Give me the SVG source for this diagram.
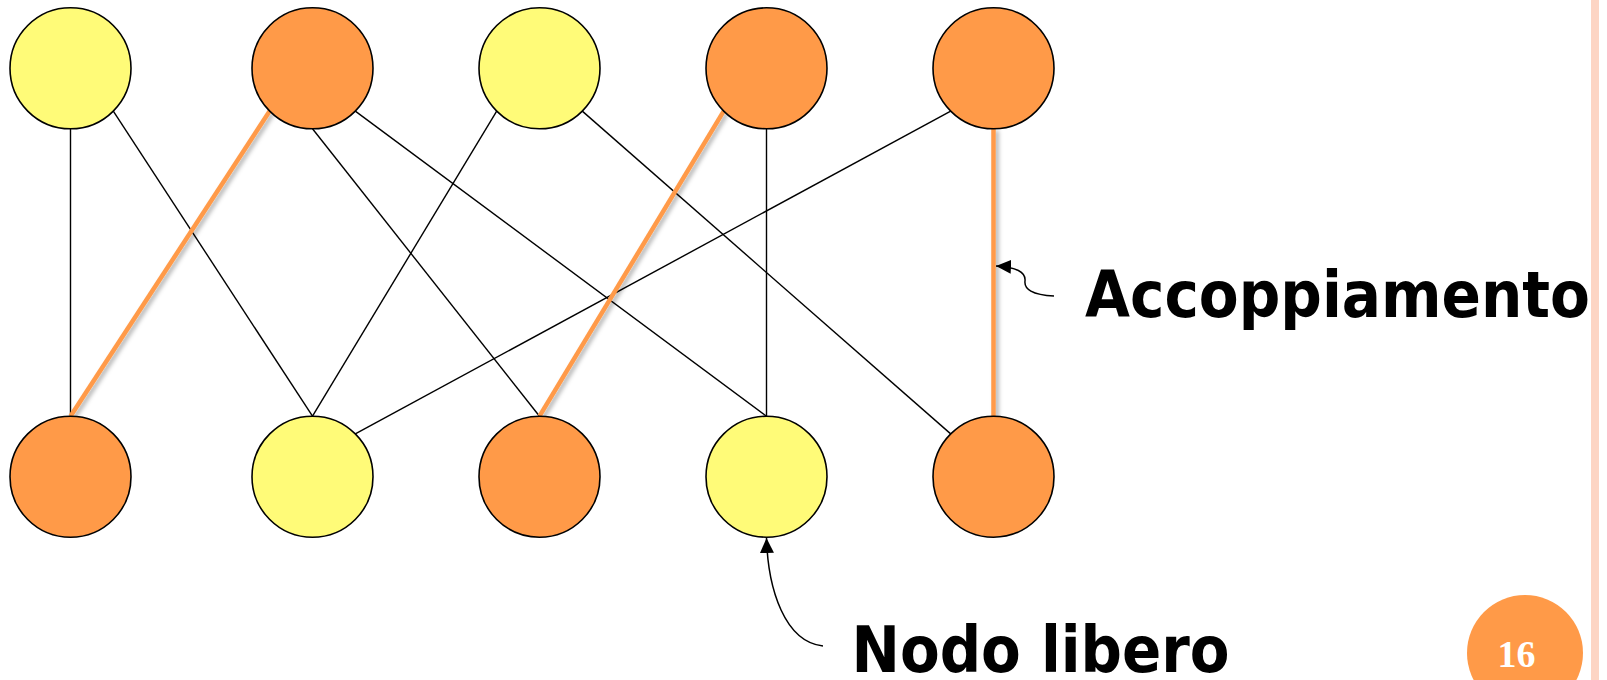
<svg xmlns="http://www.w3.org/2000/svg" width="1607" height="680" viewBox="0 0 1607 680">
  <style>
    .yel { fill: #FFFB78; stroke: #000; stroke-width: 1.6; }
    .org { fill: #FF9A48; stroke: #000; stroke-width: 1.6; }
    .edge { stroke: #000; stroke-width: 1.4; fill: none; }
    .match { stroke: #FF9A48; stroke-width: 4.5; fill: none; filter: url(#shadow); }
    .lbl { font-family: "DejaVu Sans Condensed", "DejaVu Sans", "Liberation Sans", sans-serif; font-weight: bold; font-size: 64px; fill: #000; }
    .pnum { font-family: "Liberation Serif", serif; font-weight: bold; font-size: 38px; fill: #fff; }
    .callout { stroke: #000; stroke-width: 1.5; fill: none; marker-end: url(#arr); }
  </style>
  <defs>
    <filter id="shadow" filterUnits="userSpaceOnUse" x="0" y="0" width="1607" height="680">
      <feDropShadow dx="3" dy="2" stdDeviation="2" flood-color="#000" flood-opacity="0.3"/>
    </filter>
    <marker id="arr" markerWidth="16" markerHeight="14" refX="15" refY="7" orient="auto" markerUnits="userSpaceOnUse">
      <path d="M0,0 L15,7 L0,14 Z" fill="#000"/>
    </marker>
  </defs>
  <rect x="0" y="0" width="1607" height="680" fill="#fff"/>
  <rect x="1591" y="0" width="8" height="680" fill="#FDD5C4"/>

  <g id="connectors">
    <line class="edge" x1="70.5" y1="128.8" x2="70.5" y2="416.2"/>
    <line class="edge" x1="113.3" y1="111.1" x2="312.5" y2="416.2"/>
    <line class="edge" x1="312.5" y1="128.8" x2="539.5" y2="416.2"/>
    <line class="edge" x1="355.3" y1="111.1" x2="766.5" y2="416.2"/>
    <line class="edge" x1="496.7" y1="111.1" x2="312.5" y2="416.2"/>
    <line class="edge" x1="582.3" y1="111.1" x2="950.7" y2="433.9"/>
    <line class="edge" x1="766.5" y1="128.8" x2="766.5" y2="416.2"/>
    <line class="edge" x1="950.7" y1="111.1" x2="355.3" y2="433.9"/>
    <line class="match" x1="269.7" y1="111.1" x2="70.5" y2="416.2"/>
    <line class="match" x1="723.7" y1="111.1" x2="539.5" y2="416.2"/>
    <line class="match" x1="993.5" y1="128.8" x2="993.5" y2="416.2"/>
  </g>

  <g id="t1"><circle class="yel" cx="70.5" cy="68.3" r="60.5"/></g>
  <g id="t2"><circle class="org" cx="312.5" cy="68.3" r="60.5"/></g>
  <g id="t3"><circle class="yel" cx="539.5" cy="68.3" r="60.5"/></g>
  <g id="t4"><circle class="org" cx="766.5" cy="68.3" r="60.5"/></g>
  <g id="t5"><circle class="org" cx="993.5" cy="68.3" r="60.5"/></g>

  <g id="b1"><circle class="org" cx="70.5" cy="476.7" r="60.5"/></g>
  <g id="b2"><circle class="yel" cx="312.5" cy="476.7" r="60.5"/></g>
  <g id="b3"><circle class="org" cx="539.5" cy="476.7" r="60.5"/></g>
  <g id="b4"><circle class="yel" cx="766.5" cy="476.7" r="60.5"/></g>
  <g id="b5"><circle class="org" cx="993.5" cy="476.7" r="60.5"/></g>

  <g id="label-accoppiamento">
    <path class="callout" d="M1054,296 C1032,295 1024,289 1025,281 C1026,272 1016,267 996,266"/>
    <text class="lbl" x="1085" y="316.7" textLength="505" lengthAdjust="spacingAndGlyphs">Accoppiamento</text>
  </g>

  <g id="label-nodo-libero">
    <path class="callout" d="M823,646 C785,642 768,590 766.5,538"/>
    <text class="lbl" x="851.5" y="672" textLength="378" lengthAdjust="spacingAndGlyphs">Nodo libero</text>
  </g>

  <g id="page-number">
    <circle cx="1525" cy="653" r="58" fill="#FF9A48"/>
    <text class="pnum" x="1516.5" y="667.3" text-anchor="middle">16</text>
  </g>
</svg>
